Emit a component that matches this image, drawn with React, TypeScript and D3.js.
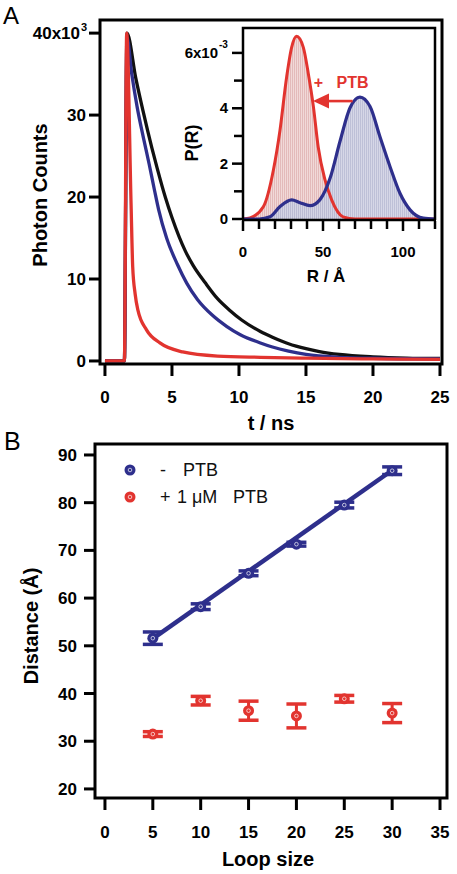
import React from "react";
import * as d3 from "d3";

// ---------- Panel A: decay curves (t in ns, counts in thousands) ----------
const decayBlackT = [0, 1.45, 1.64, 2.3, 2.84, 3.5, 3.9, 4.5, 5, 6, 6.6, 7.5, 8.4, 9.3, 10.2, 11.6, 12.5, 13.7, 15, 16, 17.5, 20, 22.5, 25];
const decayBlackV = [0, 0, 40, 34.5, 30.5, 26, 23.5, 20, 17.5, 13.4, 11.6, 9.5, 7.6, 6.2, 5.0, 3.6, 2.9, 2.1, 1.5, 1.15, 0.8, 0.5, 0.35, 0.3];
const decayBlueT = [0, 1.45, 1.64, 2.0, 2.4, 2.9, 3.3, 3.7, 4.0, 4.6, 5.4, 6.1, 6.9, 8, 9.1, 10.1, 11.6, 12.5, 13.7, 15, 17.5, 20, 25];
const decayBlueV = [0, 0, 39.5, 35, 31, 27, 24, 20.8, 18.5, 15, 11.8, 9.5, 7.5, 5.6, 4.2, 3.2, 2.2, 1.7, 1.2, 0.8, 0.45, 0.33, 0.25];
const decayRedT = [0, 1.45, 1.62, 1.95, 2.07, 2.25, 2.46, 3.1, 4.1, 5.8, 8.4, 11.6, 15, 20, 25];
const decayRedV = [0, 0, 40, 19, 11.5, 8.2, 6.2, 3.8, 2.2, 1.1, 0.6, 0.45, 0.35, 0.25, 0.2];
const aXTicks = [0, 5, 10, 15, 20, 25];
const aYTicks = [0, 10, 20, 30, 40];

// ---------- Inset: P(R) distributions ----------
const pRedR = [0, 4.4, 12.7, 19, 23.1, 27.3, 30.4, 33.5, 37.7, 40.8, 44, 47, 51.3, 55.4, 62.5, 70, 120];
const pRedV = [0, 0.04, 0.44, 1.77, 3.2, 5.14, 6.2, 6.6, 6.2, 5.26, 4.06, 2.6, 1.4, 0.69, 0.08, 0, 0];
const pBlueR = [0, 10, 16.9, 23, 30.4, 35.6, 41.9, 48, 54.4, 60.6, 66.9, 73.1, 79.4, 85.6, 91.9, 98.1, 104.4, 112.7, 120];
const pBlueV = [0, 0, 0.08, 0.44, 0.69, 0.59, 0.48, 0.69, 1.47, 2.8, 4.02, 4.4, 4.06, 2.97, 1.89, 0.93, 0.33, 0.03, 0];
const insetXTicksMajor = [0, 50, 100];
const insetXTicksMinor = [10, 20, 30, 40, 60, 70, 80, 90, 110, 120];
const insetYTicks = [0, 2, 4, 6];
const insetYTicksMinor = [1, 3, 5];
const arrowFromR = 68.5;
const arrowToR = 43.75;
const arrowP = 4.26;

// ---------- Panel B: distance vs loop size ----------
const loopSizes = [5, 10, 15, 20, 25, 30];
const distNoPTB = [51.6, 58.2, 65.2, 71.3, 79.5, 86.7];
const errNoPTB = [1.3, 0.6, 0.5, 0.4, 0.6, 0.8];
const distPTB = [31.5, 38.5, 36.4, 35.3, 38.9, 35.9];
const errPTB = [0.5, 0.9, 2.0, 2.5, 0.7, 2.0];
const fitX = [5, 30];
const fitY = [51.5, 86.8];
const bXTicks = [0, 5, 10, 15, 20, 25, 30, 35];
const bYTicks = [20, 30, 40, 50, 60, 70, 80, 90];

const BLUE = "#2e2f8c";
const RED = "#e2342f";
const BLACK = "#111111";
const FONT = "'Liberation Sans', Arial, Helvetica, sans-serif";

function zip(a: number[], b: number[]): [number, number][] {
  return a.map((v, i) => [v, b[i]]);
}

export default function App() {
  // Panel A scales
  const xA = d3.scaleLinear().domain([-0.37, 25.15]).range([100, 442]);
  const yA = d3.scaleLinear().domain([-0.37, 41.6]).range([364, 20]);
  const lineA = d3
    .line<[number, number]>()
    .x((d) => xA(d[0]))
    .y((d) => yA(d[1]))
    .curve(d3.curveMonotoneX);

  // Inset scales
  const xI = d3.scaleLinear().domain([0, 120]).range([243, 435]);
  const yI = d3.scaleLinear().domain([0, 6.9]).range([219, 28]);
  const lineI = d3
    .line<[number, number]>()
    .x((d) => xI(d[0]))
    .y((d) => yI(d[1]))
    .curve(d3.curveMonotoneX);
  const areaI = d3
    .area<[number, number]>()
    .x((d) => xI(d[0]))
    .y0(yI(0))
    .y1((d) => yI(d[1]))
    .curve(d3.curveMonotoneX);

  // Panel B scales
  const xB = d3.scaleLinear().domain([-1.04, 35.73]).range([95, 447]);
  const yB = d3.scaleLinear().domain([18.1, 92.3]).range([798, 444]);

  const redPts = zip(pRedR, pRedV);
  const bluePts = zip(pBlueR, pBlueV);

  const marker = (cx: number, cy: number, color: string, key: string) => (
    <g key={key}>
      <circle cx={cx} cy={cy} r={5.5} fill={color} />
      <circle cx={cx} cy={cy} r={1.8} fill="none" stroke="#ffffff" strokeWidth={0.8} opacity={0.85} />
    </g>
  );

  const errBar = (x: number, y: number, e: number, color: string, key: string) => {
    const cx = xB(x);
    const yt = yB(y + e);
    const yb = yB(y - e);
    return (
      <g key={key} stroke={color}>
        <line x1={cx} x2={cx} y1={yt} y2={yb} strokeWidth={3} />
        <line x1={cx - 10} x2={cx + 10} y1={yt} y2={yt} strokeWidth={3.5} />
        <line x1={cx - 10} x2={cx + 10} y1={yb} y2={yb} strokeWidth={3.5} />
      </g>
    );
  };

  const ax1 = xI(arrowFromR);
  const ax2 = xI(arrowToR);
  const ay = yI(arrowP);

  return (
    <svg
      width={457}
      height={874}
      style={{ position: "absolute", left: 0, top: 0, display: "block", background: "#fff" }}
      fontFamily={FONT}
    >
      <defs>
        <pattern id="redHatch" width={2} height={4} patternUnits="userSpaceOnUse">
          <rect width={2} height={4} fill="#f1d9d8" />
          <line x1={0.5} x2={0.5} y1={0} y2={4} stroke="#e0b3b3" strokeWidth={0.8} />
        </pattern>
        <pattern id="blueHatch" width={2} height={4} patternUnits="userSpaceOnUse">
          <rect width={2} height={4} fill="#d2d4e5" />
          <line x1={0.5} x2={0.5} y1={0} y2={4} stroke="#b1b4cf" strokeWidth={0.8} />
        </pattern>
      </defs>

      {/* ================= Panel A ================= */}
      <text x={3} y={24} fontSize={24} fill="#000">A</text>

      {/* decay curves */}
      <path d={lineA(zip(decayBlackT, decayBlackV)) || ""} fill="none" stroke={BLACK} strokeWidth={3.3} />
      <path d={lineA(zip(decayBlueT, decayBlueV)) || ""} fill="none" stroke={BLUE} strokeWidth={3.3} />
      <path d={lineA(zip(decayRedT, decayRedV)) || ""} fill="none" stroke={RED} strokeWidth={3.3} />

      {/* frame */}
      <rect x={100} y={20} width={342} height={344} fill="none" stroke="#000" strokeWidth={3} />

      {/* y ticks */}
      {aYTicks.map((t) => (
        <g key={"ay" + t}>
          <line x1={89} x2={100} y1={yA(t)} y2={yA(t)} stroke="#000" strokeWidth={3} />
          {t === 40 ? (
            <text x={80} y={yA(t) + 6} textAnchor="end" fontSize={17} fontWeight="bold">
              40x10
            </text>
          ) : (
            <text x={86} y={yA(t) + 6} textAnchor="end" fontSize={17} fontWeight="bold">
              {t}
            </text>
          )}
        </g>
      ))}
      <text x={81} y={yA(40) - 2} fontSize={11} fontWeight="bold">3</text>

      {/* x ticks */}
      {aXTicks.map((t) => (
        <g key={"ax" + t}>
          <line x1={xA(t)} x2={xA(t)} y1={365} y2={376} stroke="#000" strokeWidth={3} />
          <text x={xA(t)} y={403} textAnchor="middle" fontSize={17} fontWeight="bold">
            {t}
          </text>
        </g>
      ))}
      <text x={271} y={430} textAnchor="middle" fontSize={20} fontWeight="bold">t / ns</text>
      <text transform="translate(47,195) rotate(-90)" textAnchor="middle" fontSize={20} fontWeight="bold">
        Photon Counts
      </text>

      {/* ---------- Inset ---------- */}
      <path d={areaI(redPts) || ""} fill="url(#redHatch)" />
      <path d={areaI(bluePts) || ""} fill="url(#blueHatch)" opacity={0.92} />
      <path d={lineI(redPts) || ""} fill="none" stroke={RED} strokeWidth={3} />
      <path d={lineI(bluePts) || ""} fill="none" stroke={BLUE} strokeWidth={3.2} />

      {/* inset frame */}
      <path d={`M${xI(0)},${yI(0) + 1} L${xI(0)},28 L${xI(120)},28 L${xI(120)},${yI(0) + 1}`} fill="none" stroke="#000" strokeWidth={2.5} />
      <line x1={xI(0) - 1} x2={xI(120) + 1} y1={yI(0) + 1} y2={yI(0) + 1} stroke="#000" strokeWidth={2.5} />

      {insetXTicksMajor.map((t) => (
        <g key={"ixM" + t}>
          <line x1={xI(t)} x2={xI(t)} y1={221} y2={231} stroke="#000" strokeWidth={2.5} />
          <text x={xI(t)} y={257} textAnchor="middle" fontSize={15} fontWeight="bold">{t}</text>
        </g>
      ))}
      {insetXTicksMinor.map((t) => (
        <line key={"ixm" + t} x1={xI(t)} x2={xI(t)} y1={221} y2={229} stroke="#000" strokeWidth={2.5} />
      ))}
      {insetYTicks.map((t) => (
        <g key={"iyM" + t}>
          <line x1={232} x2={243} y1={yI(t)} y2={yI(t)} stroke="#000" strokeWidth={2.5} />
          {t === 6 ? (
            <text x={218} y={yI(t) + 5} textAnchor="end" fontSize={15} fontWeight="bold">6x10</text>
          ) : (
            <text x={228} y={yI(t) + 5} textAnchor="end" fontSize={15} fontWeight="bold">{t}</text>
          )}
        </g>
      ))}
      <text x={219} y={yI(6) - 5} fontSize={10} fontWeight="bold">-3</text>
      {insetYTicksMinor.map((t) => (
        <line key={"iym" + t} x1={234} x2={243} y1={yI(t)} y2={yI(t)} stroke="#000" strokeWidth={2.5} />
      ))}
      <text x={326} y={282} textAnchor="middle" fontSize={17} fontWeight="bold">R / Å</text>
      <text transform="translate(198,143) rotate(-90)" textAnchor="middle" fontSize={18} fontWeight="bold">P(R)</text>

      {/* arrow and annotation */}
      <line x1={ax1} x2={ax2 + 12} y1={ay} y2={ay} stroke={RED} strokeWidth={2.6} />
      <path d={`M${ax2},${ay} L${ax2 + 16},${ay - 7.5} L${ax2 + 16},${ay + 7.5} Z`} fill={RED} />
      <text x={xI(44.2)} y={yI(4.72)} fontSize={16} fontWeight="bold" fill={RED}>+</text>
      <text x={xI(58.5)} y={yI(4.72)} fontSize={16} fontWeight="bold" fill={RED}>PTB</text>

      {/* ================= Panel B ================= */}
      <text x={4} y={450} fontSize={25} fill="#000">B</text>

      <rect x={95} y={444} width={352} height={354} fill="none" stroke="#000" strokeWidth={3} />

      {bYTicks.map((t) => (
        <g key={"by" + t}>
          <line x1={84} x2={95} y1={yB(t)} y2={yB(t)} stroke="#000" strokeWidth={3} />
          <text x={77} y={yB(t) + 6} textAnchor="end" fontSize={17} fontWeight="bold">{t}</text>
        </g>
      ))}
      {bXTicks.map((t) => (
        <g key={"bx" + t}>
          <line x1={xB(t)} x2={xB(t)} y1={799} y2={810} stroke="#000" strokeWidth={3} />
          <text x={xB(t)} y={838} textAnchor="middle" fontSize={17} fontWeight="bold">{t}</text>
        </g>
      ))}
      <text x={268} y={866} textAnchor="middle" fontSize={20} fontWeight="bold">Loop size</text>
      <text transform="translate(38,626) rotate(-90)" textAnchor="middle" fontSize={20} fontWeight="bold">
        Distance (Å)
      </text>

      {/* fit line */}
      <line x1={xB(fitX[0])} x2={xB(fitX[1])} y1={yB(fitY[0])} y2={yB(fitY[1])} stroke={BLUE} strokeWidth={4.5} />

      {loopSizes.map((x, i) => errBar(x, distNoPTB[i], errNoPTB[i], BLUE, "eb" + i))}
      {loopSizes.map((x, i) => marker(xB(x), yB(distNoPTB[i]), BLUE, "mb" + i))}
      {loopSizes.map((x, i) => errBar(x, distPTB[i], errPTB[i], RED, "er" + i))}
      {loopSizes.map((x, i) => marker(xB(x), yB(distPTB[i]), RED, "mr" + i))}

      {/* legend */}
      {marker(130, 470, BLUE, "lg1")}
      <text y={476} fontSize={18} fill="#111">
        <tspan x={160}>-</tspan>
        <tspan x={183}>PTB</tspan>
      </text>
      {marker(130, 497, RED, "lg2")}
      <text y={503} fontSize={18} fill="#111">
        <tspan x={160}>+</tspan>
        <tspan x={177}>1</tspan>
        <tspan x={192}>μM</tspan>
        <tspan x={233}>PTB</tspan>
      </text>
    </svg>
  );
}
